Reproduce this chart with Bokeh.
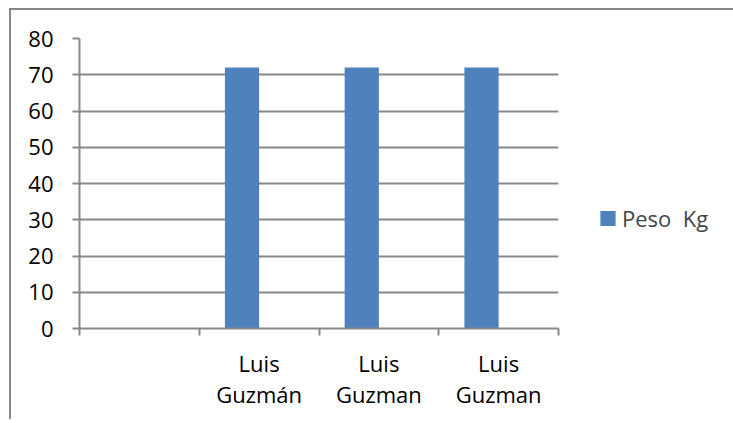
from bokeh.plotting import figure
from bokeh.models import FixedTicker, Legend, LegendItem, ColumnDataSource, Range1d
from bokeh.embed import file_html
from bokeh.resources import INLINE

categories = ["", "Luis\nGuzmán", "Luis\nGuzman", "Luis\nGuzman"]
peso_kg = [0, 72, 72, 72]
series_name = "Peso  Kg"
y_ticks = [0, 10, 20, 30, 40, 50, 60, 70, 80]

FONT = "Open Sans"
FS = "22px"
GRID = "#888888"
BAR = "#4F81BD"

n = len(categories)
centers = [i + 0.5 for i in range(n)]
bar_w = 1 / 3.5
xs = [c - bar_w / 2 for c in centers]

src = ColumnDataSource(dict(x=xs, top=peso_kg))

p = figure(width=721, height=411, output_backend="svg", toolbar_location=None,
           x_range=Range1d(0, n), y_range=Range1d(0, 80),
           min_border_left=68, min_border_top=28, min_border_right=0, min_border_bottom=93)
p.frame_width = 479
p.outline_line_color = None
p.background_fill_color = "white"
p.border_fill_color = "white"
p.styles = {"border-top": "2px solid #878787", "border-left": "2px solid #878787",
            "margin-top": "8px", "margin-left": "9px"}

r = p.vbar(x="x", top="top", bottom=0, width=bar_w, source=src, fill_color=BAR, line_color=None)

# y axis
p.yaxis.ticker = FixedTicker(ticks=y_ticks)
p.yaxis.axis_line_color = GRID
p.yaxis.axis_line_width = 2
p.yaxis.major_tick_line_color = GRID
p.yaxis.major_tick_line_width = 2
p.yaxis.major_tick_out = 7
p.yaxis.major_tick_in = 0
p.yaxis.minor_tick_line_color = None
p.yaxis.major_label_text_font = FONT
p.yaxis.major_label_text_font_size = FS
p.yaxis.major_label_text_color = "black"
p.yaxis.major_label_standoff = 19

# x axis
p.xaxis.ticker = FixedTicker(ticks=centers, minor_ticks=list(range(n + 1)))
p.xaxis.major_label_overrides = {c: lab for c, lab in zip(centers, categories)}
p.xaxis.axis_line_color = GRID
p.xaxis.axis_line_width = 2
p.xaxis.major_tick_line_color = None
p.xaxis.minor_tick_line_color = GRID
p.xaxis.minor_tick_line_width = 2
p.xaxis.minor_tick_out = 7
p.xaxis.minor_tick_in = 0
p.xaxis.major_tick_out = 7
p.xaxis.major_label_text_font = FONT
p.xaxis.major_label_text_font_size = FS
p.xaxis.major_label_text_color = "black"
p.xaxis.major_label_text_line_height = 1.05
p.xaxis.major_label_standoff = 12

p.xgrid.grid_line_color = None
p.ygrid.grid_line_color = GRID
p.ygrid.grid_line_width = 2

legend = Legend(items=[LegendItem(label=series_name, renderers=[r])],
                location="center_left", glyph_width=19, glyph_height=19,
                label_text_font=FONT, label_text_font_size=FS,
                title=" ", title_text_font_size="10px", title_standoff=58,
                label_standoff=5, padding=0, margin=40, spacing=0,
                border_line_color=None, background_fill_alpha=0)
p.add_layout(legend, "right")

open("out.html", "w").write(file_html(p, INLINE))
